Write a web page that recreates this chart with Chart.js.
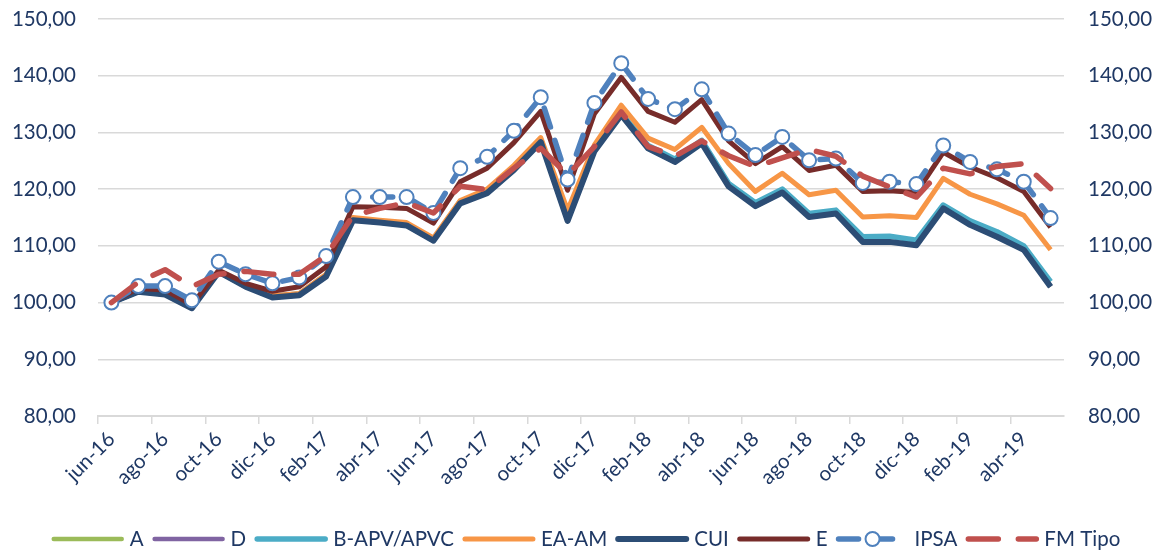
<!DOCTYPE html>
<html>
<head>
<meta charset="utf-8">
<script src="https://cdn.jsdelivr.net/npm/chart.js@4.4.1/dist/chart.umd.min.js"></script>
<style>
  html, body { margin: 0; padding: 0; background: #fff; }
  #contenedor { width: 1159px; height: 550px; position: relative; }
</style>
</head>
<body>
<div id="contenedor"><canvas id="grafico"></canvas></div>
<script>
const meses = ['jun-16','jul-16','ago-16','sep-16','oct-16','nov-16','dic-16','ene-17','feb-17','mar-17','abr-17','may-17',
               'jun-17','jul-17','ago-17','sep-17','oct-17','nov-17','dic-17','ene-18','feb-18','mar-18','abr-18','may-18',
               'jun-18','jul-18','ago-18','sep-18','oct-18','nov-18','dic-18','ene-19','feb-19','mar-19','abr-19','may-19'];

// valores (base 100 en jun-16)
const serieA    = [100.0, 101.9, 101.4, 99.0, 105.4, 102.8, 100.9, 101.3, 104.6, 114.5, 114.1, 113.6, 110.9, 117.5, 119.3, 123.4, 128.3, 114.4, 126.7, 133.1, 127.2, 124.8, 128.1, 120.5, 117.0, 119.4, 115.1, 115.7, 110.7, 110.7, 110.1, 116.6, 113.7, 111.6, 109.3, 102.8];
const serieD    = [100.0, 101.9, 101.4, 99.0, 105.4, 102.8, 100.9, 101.3, 104.6, 114.5, 114.1, 113.6, 110.9, 117.5, 119.3, 123.4, 128.3, 114.4, 126.7, 133.1, 127.2, 124.8, 128.1, 120.5, 117.0, 119.4, 115.1, 115.7, 110.7, 110.7, 110.1, 116.6, 113.7, 111.6, 109.3, 102.8];
const serieB    = [100.0, 102.0, 101.6, 99.2, 105.6, 103.0, 101.1, 101.5, 104.8, 114.7, 114.3, 113.8, 111.1, 117.8, 119.6, 123.7, 128.7, 114.9, 127.1, 133.4, 127.7, 125.3, 128.6, 121.0, 117.6, 120.0, 115.7, 116.3, 111.6, 111.7, 111.0, 117.2, 114.4, 112.5, 110.0, 103.7];
const serieEA   = [100.0, 102.0, 101.6, 99.2, 105.6, 103.0, 101.2, 101.6, 105.0, 115.0, 114.5, 114.1, 111.4, 118.0, 120.0, 124.2, 129.1, 116.3, 127.8, 134.8, 129.0, 127.0, 130.9, 124.5, 119.6, 122.8, 119.0, 119.8, 115.1, 115.3, 115.0, 121.9, 119.1, 117.4, 115.4, 109.3];
const serieCUI  = [100.0, 101.9, 101.4, 99.0, 105.4, 102.8, 100.9, 101.3, 104.6, 114.5, 114.1, 113.6, 110.9, 117.5, 119.3, 123.4, 128.3, 114.4, 126.7, 133.1, 127.2, 124.8, 128.1, 120.5, 117.0, 119.4, 115.1, 115.7, 110.7, 110.7, 110.1, 116.6, 113.7, 111.6, 109.3, 102.8];
const serieE    = [100.0, 102.5, 102.2, 99.6, 105.7, 103.4, 102.0, 102.8, 106.3, 116.9, 116.8, 116.6, 114.0, 121.3, 123.7, 128.2, 133.7, 119.8, 133.3, 139.7, 133.7, 131.8, 135.8, 128.5, 124.5, 127.5, 123.3, 124.2, 119.6, 119.7, 119.4, 126.5, 123.9, 122.0, 119.6, 113.3];
const serieIPSA = [100.0, 102.9, 102.9, 100.4, 107.2, 105.0, 103.4, 104.4, 108.2, 118.6, 118.6, 118.6, 115.8, 123.7, 125.7, 130.3, 136.2, 121.7, 135.2, 142.2, 135.9, 134.1, 137.6, 129.8, 126.0, 129.2, 125.1, 125.4, 121.1, 121.3, 120.9, 127.7, 124.8, 123.5, 121.3, 114.9];
const serieFM   = [100.0, 103.6, 105.8, 102.8, 105.0, 105.5, 105.0, 105.0, 108.3, 115.3, 116.6, 117.6, 115.8, 120.5, 119.9, 123.7, 127.2, 122.5, 127.5, 133.6, 127.5, 125.8, 128.5, 125.9, 124.0, 125.5, 127.0, 125.8, 122.3, 120.4, 118.6, 123.7, 122.7, 124.0, 124.5, 120.1];

const ejeMin = 80;
const ejeMax = 150;
const ejePaso = 10;

const colorTexto = '#1f3864';
const fuente = { family: 'Lato', size: 20.5 };
const transparente = 'rgba(0,0,0,0)';

const series = [
    { label: 'A',          data: serieA,    color: '#9bbb59', width: 4.5 },
    { label: 'D',          data: serieD,    color: '#8064a2', width: 4.5 },
    { label: 'B-APV/APVC', data: serieB,    color: '#4bacc6', width: 5.5 },
    { label: 'EA-AM',      data: serieEA,   color: '#f79646', width: 5 },
    { label: 'CUI',        data: serieCUI,  color: '#2c4d75', width: 6 },
    { label: 'E',          data: serieE,    color: '#772c2a', width: 5 },
    { label: 'IPSA',       data: serieIPSA, color: '#4f81bd', width: 5.5, dash: [20, 14], marker: true },
    { label: 'FM Tipo',    data: serieFM,   color: '#c0504d', width: 5.5, dash: [30, 20] }
];

const datasets = series.map((s, i) => ({
    label: s.label,
    data: s.data,
    borderColor: s.color,
    backgroundColor: s.color,
    borderWidth: s.width,
    borderDash: s.dash || [],
    borderCapStyle: s.dash ? 'round' : 'butt',
    borderJoinStyle: 'round',
    tension: 0,
    fill: false,
    pointRadius: s.marker ? 7 : 0,
    pointHoverRadius: s.marker ? 7 : 0,
    pointBackgroundColor: '#ffffff',
    pointBorderColor: s.color,
    pointBorderWidth: 2,
    order: series.length - i,
    yAxisID: 'y'
}));

// leyenda dibujada a mano para imitar la de Excel
const leyenda = {
    id: 'leyenda',
    afterDraw(chart) {
        const ctx = chart.ctx;
        const largo = 72, sepTexto = 6, sepItem = 9;
        ctx.save();
        ctx.font = fuente.size + 'px ' + fuente.family;
        ctx.textBaseline = 'middle';
        let total = 0;
        series.forEach((s, i) => {
            total += largo + sepTexto + ctx.measureText(s.label).width;
            if (i < series.length - 1) total += sepItem;
        });
        const area = chart.chartArea;
        let x = (area.left + area.right) / 2 - total / 2 + 5;
        const y = 539;
        series.forEach(s => {
            ctx.beginPath();
            ctx.strokeStyle = s.color;
            ctx.lineWidth = s.width;
            ctx.lineCap = 'round';
            ctx.setLineDash(s.dash || []);
            ctx.moveTo(x + 2, y);
            ctx.lineTo(x + largo - 2, y);
            ctx.stroke();
            ctx.setLineDash([]);
            if (s.marker) {
                ctx.beginPath();
                ctx.arc(x + largo / 2, y, 7, 0, Math.PI * 2);
                ctx.fillStyle = '#ffffff';
                ctx.fill();
                ctx.lineWidth = 2;
                ctx.stroke();
            }
            ctx.fillStyle = colorTexto;
            ctx.textAlign = 'left';
            ctx.fillText(s.label, x + largo + sepTexto, y);
            x += largo + sepTexto + ctx.measureText(s.label).width + sepItem;
        });
        ctx.restore();
    }
};

const formato = v => v.toFixed(2).replace('.', ',');

new Chart(document.getElementById('grafico'), {
    type: 'line',
    data: { labels: meses, datasets: datasets },
    options: {
        responsive: true,
        maintainAspectRatio: false,
        animation: false,
        layout: { padding: { top: 19, left: 0, right: 0, bottom: 0 } },
        plugins: {
            legend: { display: false },
            tooltip: { enabled: false },
            title: { display: false }
        },
        scales: {
            x: {
                offset: true,
                grid: {
                    offset: true,
                    drawOnChartArea: false,
                    drawTicks: true,
                    tickLength: 8,
                    lineWidth: 1.5,
                    tickColor: c => (c.index % 2 === 0 ? '#d9d9d9' : transparente)
                },
                border: { display: true, color: '#d9d9d9', width: 2 },
                ticks: {
                    autoSkip: false,
                    maxRotation: 45,
                    minRotation: 45,
                    padding: 3,
                    color: colorTexto,
                    font: fuente,
                    callback: function (val, index) {
                        return index % 2 === 0 ? this.getLabelForValue(val) : '';
                    }
                },
                afterFit: scale => { scale.height = 134; }
            },
            y: {
                position: 'left',
                min: ejeMin,
                max: ejeMax,
                // la separacion de las etiquetas va en tickLength (invisible) para no empujar el area hacia abajo
                grid: { color: '#d9d9d9', lineWidth: 1.5, drawTicks: true, tickLength: 22, tickColor: transparente },
                border: { display: false },
                ticks: { stepSize: ejePaso, padding: 0, color: colorTexto, font: fuente, callback: formato },
                afterFit: scale => { scale.width = 98; }
            },
            y2: {
                position: 'right',
                min: ejeMin,
                max: ejeMax,
                grid: { drawOnChartArea: false, drawTicks: true, tickLength: 24, tickColor: transparente, color: transparente },
                border: { display: false },
                ticks: { stepSize: ejePaso, padding: 0, color: colorTexto, font: fuente, callback: formato },
                afterFit: scale => { scale.width = 95; }
            }
        }
    },
    plugins: [leyenda]
});
</script>
</body>
</html>
